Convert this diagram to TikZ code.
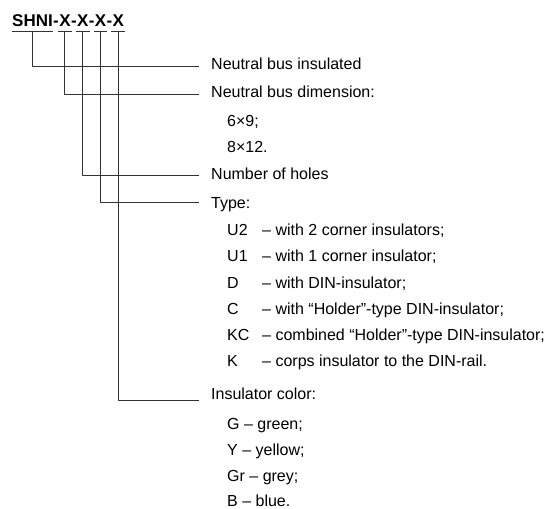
\documentclass[tikz,border=0pt]{standalone}
\usepackage{fontspec}
\setmainfont{Liberation Sans}
\begin{document}
\begin{tikzpicture}[x=1pt, y=-1pt, font=\fontsize{16}{19}\selectfont, line join=round,
  lead/.style={draw=black!80, line width=0.9pt},
  txt/.style={anchor=base west, inner sep=0pt},
  head/.style={anchor=base west, inner sep=0pt, font=\fontsize{17}{20}\selectfont\bfseries}]
\useasboundingbox (0,0) rectangle (552,509);
\node[head] (shni) at (12,26) {SHNI};
\node[head] (d1) at (shni.base east) {-};
\node[head] (x1) at (d1.base east) {X};
\node[head] (d2) at (x1.base east) {-};
\node[head] (x2) at (d2.base east) {X};
\node[head] (d3) at (x2.base east) {-};
\node[head] (x3) at (d3.base east) {X};
\node[head] (d4) at (x3.base east) {-};
\node[head] (x4) at (d4.base east) {X};
\draw[lead] ([yshift=-5pt]shni.base west) -- ([yshift=-5pt]shni.base east);
\foreach \m in {x1,x2,x3,x4}
  \draw[lead] ([shift={(-1pt,-5pt)}]\m.base west) -- ([shift={(1pt,-5pt)}]\m.base east);
\coordinate (e0) at (199,66);
\coordinate (e1) at (199,94);
\coordinate (e2) at (199,175);
\coordinate (e3) at (199,202);
\coordinate (e4) at (199,400);
\node[txt] (l0) at (211,69) {Neutral bus insulated};
\node[txt] (l1) at (211,97) {Neutral bus dimension:};
\node[txt] (s1) at (227,126) {6×9;};
\node[txt] (s2) at (227,152) {8×12.};
\node[txt] (l2) at (211,179) {Number of holes};
\node[txt] (l3) at (211,208) {Type:};
\foreach \code/\desc/\yy in {U2/with 2 corner insulators;/235,
    U1/with 1 corner insulator;/261, D/with DIN-insulator;/288,
    C/with “Holder”-type DIN-insulator;/314,
    KC/combined “Holder”-type DIN-insulator;/340,
    K/corps insulator to the DIN-rail./366}{
  \node[txt] (t-\code) at (227,\yy) {\code};
  \node[txt] (d-\code) at (262,\yy) {– \desc};
}
\node[txt] (l4) at (211,399) {Insulator color:};
\foreach \code/\desc/\yy in {G/green;/429, Y/yellow;/455, Gr/grey;/481, B/blue./506}
  \node[txt] (c-\code) at (227,\yy) {\code{} – \desc};
\draw[lead] ([yshift=-5pt]shni.south) |- (e0);
\draw[lead] ([yshift=-5pt]x1.south) |- (e1);
\draw[lead] ([yshift=-5pt]x2.south) |- (e2);
\draw[lead] ([yshift=-5pt]x3.south) |- (e3);
\draw[lead] ([yshift=-5pt]x4.south) |- (e4);
\end{tikzpicture}
\end{document}
